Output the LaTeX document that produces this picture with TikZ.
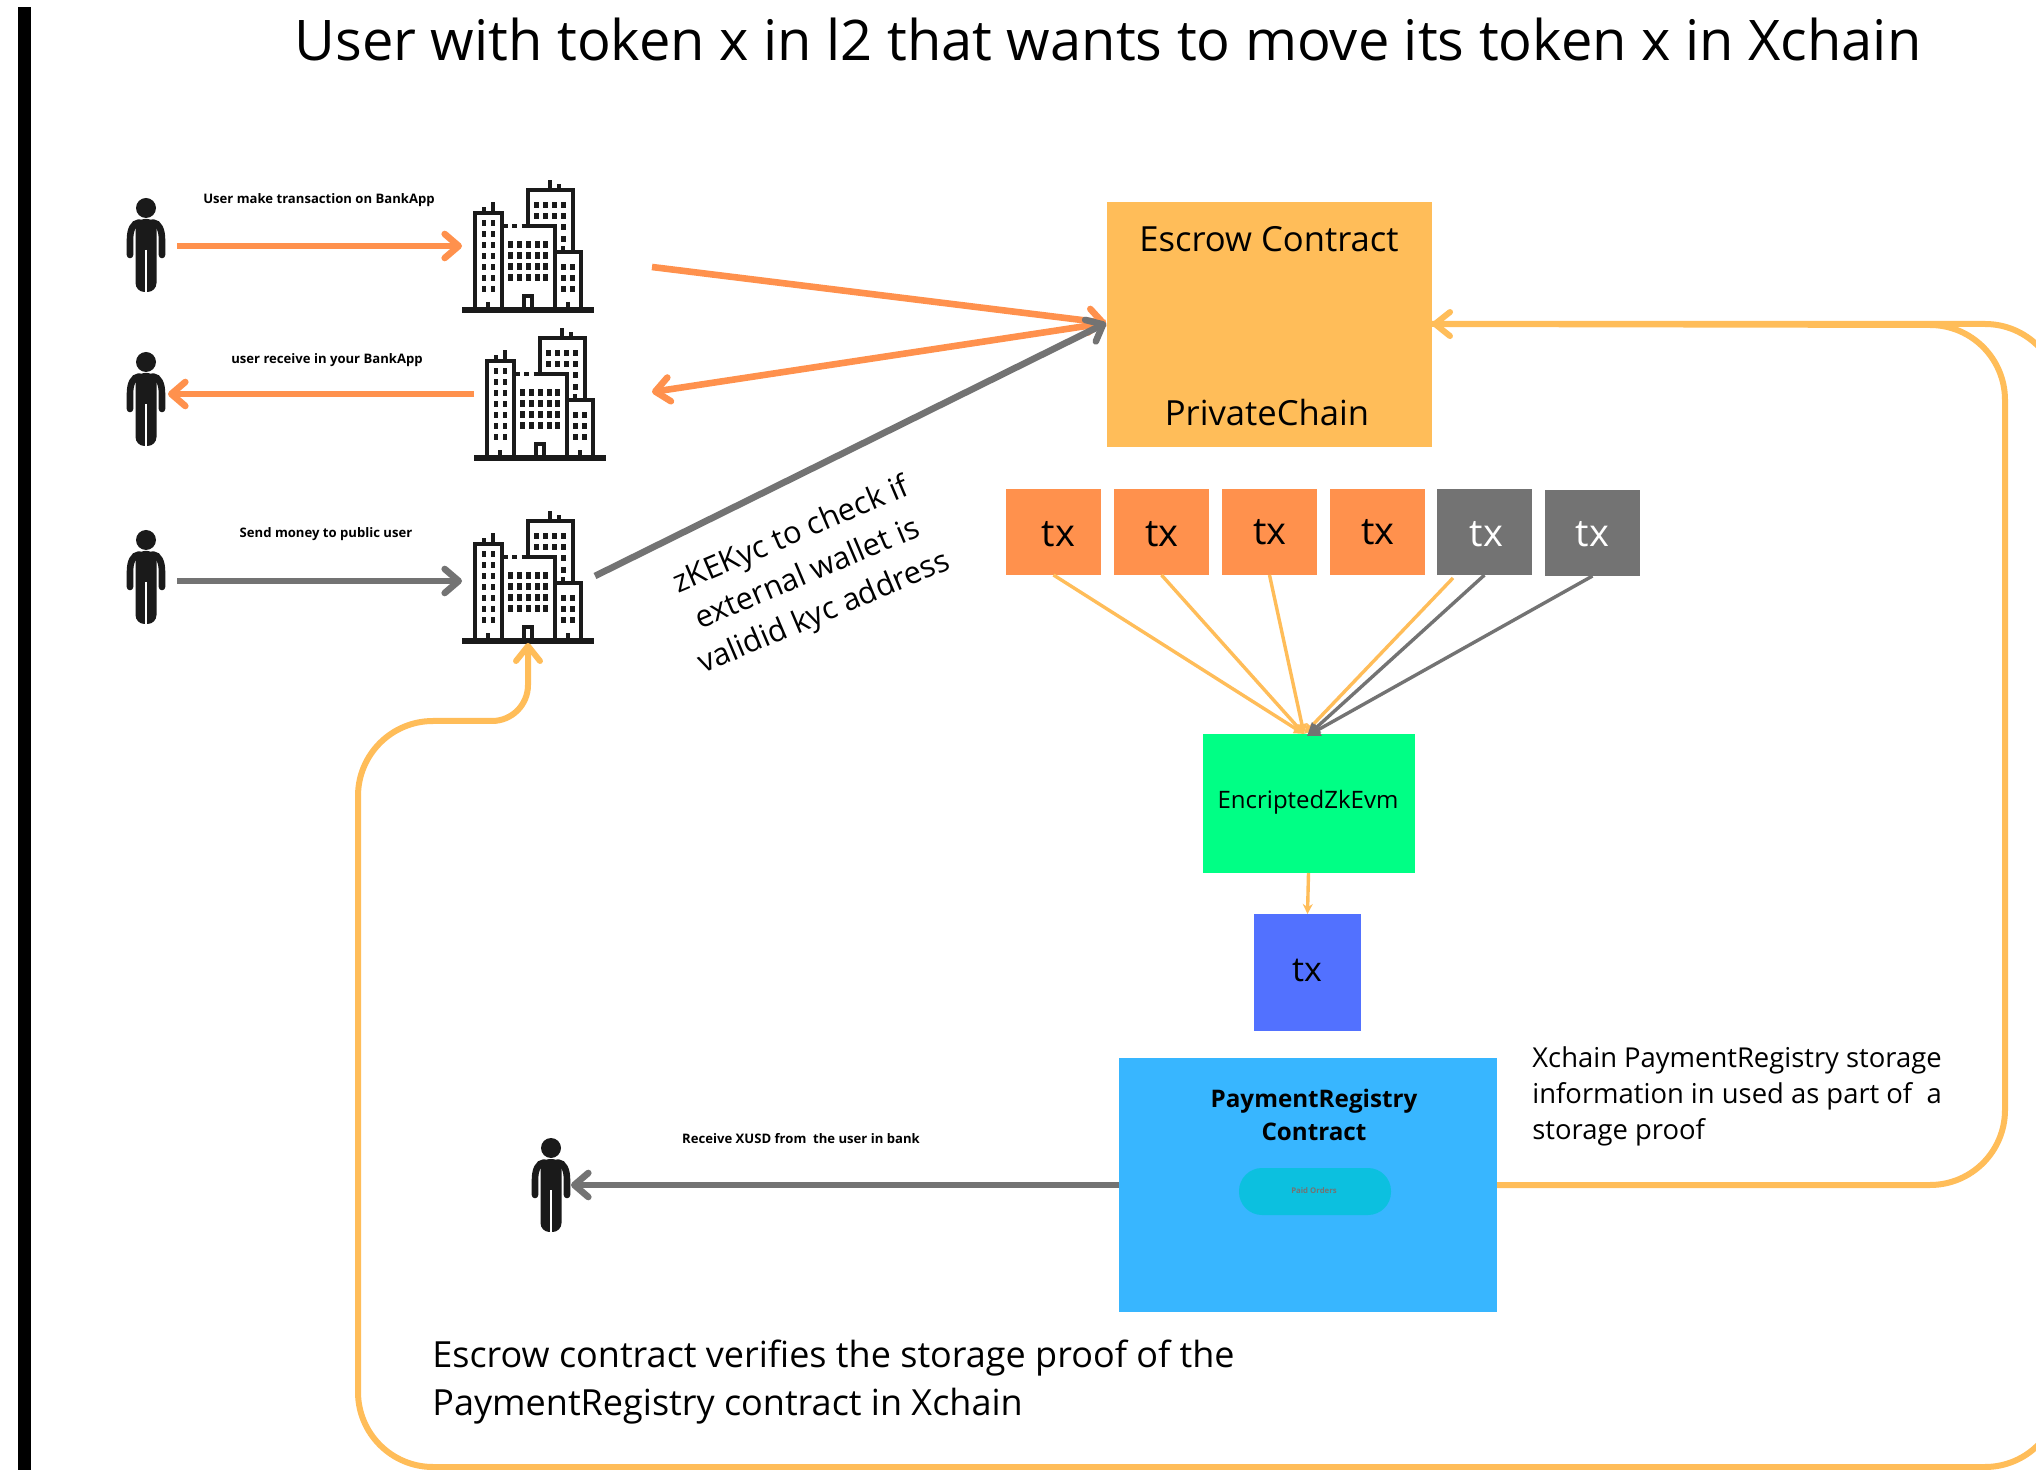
\documentclass[tikz,border=0pt]{standalone}
\usepackage{fontspec}
\setmainfont{Open Sans}
\usetikzlibrary{arrows.meta,calc}
\definecolor{orng}{HTML}{FF914D}
\definecolor{yel}{HTML}{FFBD59}
\definecolor{gry}{HTML}{737373}
\definecolor{grn}{HTML}{00FF85}
\definecolor{blu}{HTML}{5271FF}
\definecolor{sky}{HTML}{38B6FF}
\definecolor{teal}{HTML}{0CC0DF}
\definecolor{ink}{HTML}{1A1A1A}
\tikzset{
  bigarrow/.style={line width=3.3pt,-{Straight Barb[length=7pt,width=12pt,round,line width=3.3pt]}},
  looparrow/.style={line width=3pt,yel,-{Straight Barb[length=7.5pt,width=12pt,round,line width=3pt]}},
  thinline/.style={line width=1.7pt},
  box/.style={inner sep=0pt,outer sep=0pt,align=center},
  tagtext/.style={font=\bfseries\fontsize{6.55}{8}\selectfont,inner sep=0pt},
  txtext/.style={font=\fontsize{19}{22}\selectfont,inner sep=0pt},
  pics/person/.style={code={
    \begin{scope}[x=0.5pt,y=-0.5pt]
      \fill[ink] (0,0) circle (10);
      \fill[ink,rounded corners=4.5pt] (-10.5,11) rectangle (10.5,84);
      \draw[white,line width=1pt] (0,42) -- (0,86);
      \fill[white] (-3,84) rectangle (3,86);
      \draw[ink,line width=3.3pt,line cap=round] (-7,14.5) .. controls (-13,15) and (-16,22) .. (-16,32) -- (-16,47);
      \draw[ink,line width=3.3pt,line cap=round] (7,14.5) .. controls (13,15) and (16,22) .. (16,32) -- (16,47);
    \end{scope}
  }},
  pics/bank/.style={code={
    \begin{scope}[x=0.16667pt,y=-0.16667pt,shift={(-1284,-449)}]
      \begin{scope}[draw=ink,line width=2pt]
      \draw[line width=2.6pt] (1086,449) -- (1482,449);
      \draw (1125,449) -- (1125,157) -- (1205,157) -- (1205,449);
      \draw (1152,157) -- (1152,140) (1179,157) -- (1179,125);
      \draw (1165,449) -- (1165,425);
      \draw (1205,197) -- (1225,197) (1237,197) -- (1251,197) (1265,197) -- (1365,197) -- (1365,449);
      \draw (1271,449) -- (1271,408) -- (1297,408) -- (1297,449);
      \draw (1284,197) -- (1284,90) -- (1418,90) -- (1418,275);
      \draw (1351,90) -- (1351,60) (1377,90) -- (1377,72);
      \draw (1365,275) -- (1443,275) -- (1443,449);
      \draw (1390,275) -- (1390,258);
      \draw (1403,449) -- (1403,425);
      \end{scope}
      \foreach \yy in {178,211,244,277,310,343,376}
        \foreach \xx in {1146,1172} \fill[ink] (\xx,\yy) rectangle ++(13,19);
      \foreach \yy in {243,276,309,342}
        \foreach \xx in {1225,1252,1279,1305,1330} \fill[ink] (\xx,\yy) rectangle ++(14,19);
      \foreach \yy in {124,157}
        \foreach \xx in {1303,1329,1356,1384} \fill[ink] (\xx,\yy) rectangle ++(14,20);
      \foreach \yy in {190,226} \fill[ink] (1384,\yy) rectangle ++(14,20);
      \foreach \yy in {310,343,376}
        \foreach \xx in {1384,1411} \fill[ink] (\xx,\yy) rectangle ++(14,20);
    \end{scope}
  }}
}
\begin{document}
\begin{tikzpicture}[x=0.5pt,y=-0.5pt]
\useasboundingbox (0,0) rectangle (2036,1470);
\fill[white] (0,0) rectangle (2036,1470);
\clip (0,0) rectangle (2036,1470);
% left bar
\fill[black] (18,7) rectangle (31,1470);
% title
\node[inner sep=0pt,font=\fontsize{28}{34}\selectfont] (title) at (1108,40) {User with token x in l2 that wants to move its token x in Xchain};

% boxes
\node[box,fill=yel,minimum width=162.5pt,minimum height=122.5pt] (escrow) at (1269.5,325) {};
\node[inner sep=0pt,font=\fontsize{17.3}{22}\selectfont] (escrowt) at (1269,239) {Escrow Contract};
\node[inner sep=0pt,font=\fontsize{17.3}{22}\selectfont] (privt) at (1267,413) {PrivateChain};
\foreach \nm/\cx/\cy/\col/\tc/\tx/\ty in {t1/1053.5/532/orng/black/1058.5/534,t2/1161.5/532/orng/black/1162/534,t3/1269.5/532/orng/black/1270/532.5,t4/1377.5/532/orng/black/1378/532.5,t5/1484.5/532/gry/white/1486.5/534,t6/1592.5/533/gry/white/1592.5/534}{
  \node[box,fill=\col,minimum width=47.5pt,minimum height=43pt] (\nm) at (\cx,\cy) {};
  \node[txtext,text=\tc] (\nm x) at (\tx,\ty) {tx};
}
\node[box,fill=grn,minimum width=106pt,minimum height=69.5pt] (zk) at (1308.5,803.5) {};
\node[inner sep=0pt,font=\fontsize{12}{15}\selectfont] (zkt) at (1308,802) {EncriptedZkEvm};
\node[box,fill=blu,minimum width=53.5pt,minimum height=58.5pt] (txb) at (1307.5,972.5) {};
\node[txtext,font=\fontsize{17}{20}\selectfont] (txbt) at (1307,970.5) {tx};
\node[box,fill=sky,minimum width=189pt,minimum height=127pt] (pay) at (1308,1185) {};
\node[inner sep=0pt,align=center,font=\bfseries\fontsize{12.1}{16.3}\selectfont] (payt) at (1314,1115) {PaymentRegistry\\Contract};
\node[fill=teal,inner sep=0pt,minimum width=76pt,minimum height=23.5pt,rounded corners=11.5pt] (pill) at (1315,1191.5) {};
\node[inner sep=0pt,text=gry,font=\bfseries\fontsize{3.9}{5}\selectfont] (pillt) at (1314,1191) {Paid Orders};

% icons
\coordinate (p1) at (146,208); \coordinate (p2) at (146,362);
\coordinate (p3) at (146,540); \coordinate (p4) at (551,1148);
\coordinate (b1) at (528,310); \coordinate (b2) at (540,458); \coordinate (b3) at (528,641);
\foreach \c in {p1,p2,p3,p4} \pic at (\c) {person};
\foreach \c in {b1,b2,b3} \pic at (\c) {bank};

% arrows between icons
\coordinate (a1s) at (177,246); \coordinate (a1e) at (462,246);
\coordinate (a2s) at (474,394); \coordinate (a2e) at (168,394);
\coordinate (a3s) at (177,581); \coordinate (a3e) at (462,581);
\draw[bigarrow,orng] (a1s) -- (a1e);
\draw[bigarrow,orng] (a2s) -- (a2e);
\draw[bigarrow,gry] (a3s) -- (a3e);

\coordinate (e1) at (1106,323); 
\coordinate (b1r) at (652,267); \coordinate (b2r) at (652,392); \coordinate (b3r) at (595,576);
\draw[bigarrow,orng] (b1r) -- (e1);
\draw[bigarrow,orng] (e1) -- (b2r);
\draw[bigarrow,gry] (b3r) -- (e1);

% tx lines
\coordinate (zky) at (1304,734);
\coordinate (zkg) at (1307,736);
\coordinate (t4y) at (1453,578);
\draw[thinline,yel,-{Triangle[length=5pt,width=5pt]}] (t1.south) -- (zky);
\draw[thinline,yel,-{Triangle[length=5pt,width=5pt]}] (t2.south) -- (zky);
\draw[thinline,yel,-{Triangle[length=5pt,width=5pt]}] (t3.south) -- (zky);
\draw[thinline,yel,-{Triangle[length=5pt,width=5pt]}] (t4y) -- (zky);
\draw[thinline,gry,-{Triangle[length=6.5pt,width=6.5pt]}] (t5.south) -- (zkg);
\draw[thinline,gry,-{Triangle[length=6.5pt,width=6.5pt]}] (t6.south) -- (zkg);
\draw[thinline,yel,-{Stealth[length=5pt,width=5pt]}] (zk.south) -- (txb.north);

% payment to user
\coordinate (p4r) at (571,1185);
\draw[bigarrow,gry] (pay.west) -- (p4r);

% loop 1
\coordinate (escr) at (1432,324);
\draw[looparrow]
  (1497,1185) -- (1930,1185) arc[start angle=-90,end angle=0,radius=37.5pt]
  -- (2005,400) arc[start angle=0,end angle=90,radius=37.5pt] -- (escr);
% loop 2
\coordinate (b3b) at (528,643);
\draw[looparrow]
  (escr) -- (1985,324) arc[start angle=90,end angle=0,radius=37.5pt]
  -- (2060,1392) arc[start angle=0,end angle=-90,radius=37.5pt]
  -- (433,1467) arc[start angle=-90,end angle=-180,radius=37.5pt]
  -- (358,796) arc[start angle=180,end angle=90,radius=37.5pt]
  -- (492,721) arc[start angle=-90,end angle=0,radius=18pt]
  -- (b3b);

% labels
\node[tagtext] (l1) at (319,200) {User make transaction on BankApp};
\node[tagtext] (l2) at (327,360) {user receive in your BankApp};
\node[tagtext] (l3) at (326,534) {Send money to public user};
\node[tagtext] (l4) at (801,1139) {Receive XUSD from\ \ the user in bank};
\node[inner sep=0pt,align=center,rotate=23,font=\fontsize{15.4}{21}\selectfont] (kyc) at (808,575) {zKEKyc to check if\\external wallet is\\validid kyc address};
\node[inner sep=0pt,align=left,anchor=north west,font=\fontsize{13.7}{18}\selectfont] (xc) at (1532,1046.5) {Xchain PaymentRegistry storage\\information in used as part of\ \ a\\storage proof};
\node[inner sep=0pt,align=left,anchor=north west,font=\fontsize{18}{24}\selectfont] (ev) at (432,1340) {Escrow contract verifies the storage proof of the\\PaymentRegistry contract in Xchain};
\end{tikzpicture}
\end{document}
